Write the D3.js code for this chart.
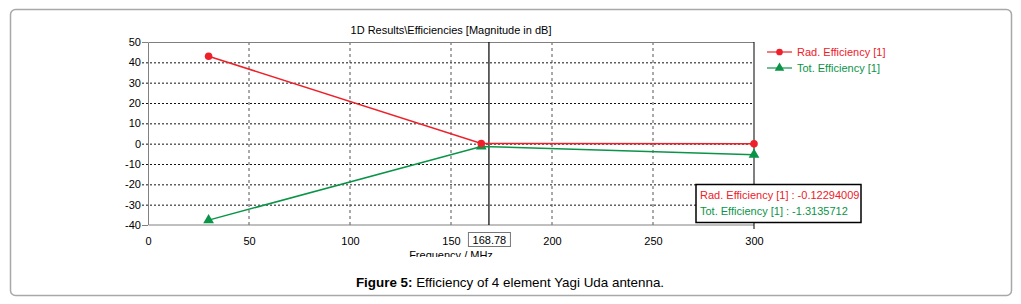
<!DOCTYPE html>
<html>
<head>
<meta charset="utf-8">
<script src="https://cdn.jsdelivr.net/npm/d3@7"></script>
<style>
  body { margin: 0; background: #fff; }
  svg { display: block; }
  .tk { font-family: 'Liberation Sans', sans-serif; font-size: 11px; fill: #000; }
</style>
</head>
<body>
<svg id="chart" width="1021" height="304"></svg>
<script>
// data
const freq = [30, 165, 300]
const radEff = [43, 0.1, -0.1]
const totEff = [-37.6, -1.4, -5.4]
const xTicks = [0, 50, 100, 150, 200, 250, 300]
const yTicks = [50, 40, 30, 20, 10, 0, -10, -20, -30, -40]
const cursorFreq = 168.78
const readout = ['Rad. Efficiency [1] : -0.12294009', 'Tot. Efficiency [1] : -1.3135712']
const legendNames = ['Rad. Efficiency [1]', 'Tot. Efficiency [1]']

const red = '#ee2029'
const green = '#0a9447'

const svg = d3.select('#chart')
const margin = { top: 42, right: 267, bottom: 79, left: 148 }
const width = +svg.attr('width') - margin.left - margin.right
const height = +svg.attr('height') - margin.top - margin.bottom

// outer panel
svg.append('rect')
  .attr('x', 10.5).attr('y', 9.5).attr('width', 1001).attr('height', 286)
  .attr('rx', 5).attr('fill', '#fff').attr('stroke', '#a8a8a8').attr('stroke-width', 1.5)

const g = svg.append('g').attr('transform', 'translate(' + margin.left + ',' + margin.top + ')')

const x = d3.scaleLinear().domain([0, 300]).range([0, width])
const y = d3.scaleLinear().domain([-40, 50]).range([height, 0])

// title
g.append('text').attr('class', 'tk')
  .attr('x', width / 2).attr('y', -8).attr('text-anchor', 'middle')
  .text('1D Results\\Efficiencies [Magnitude in dB]')

// horizontal grid + y labels (plain hyphen for negatives, like the source)
const yAxis = g.append('g')
  .call(d3.axisLeft(y).tickValues(yTicks).tickFormat(d => String(d))
    .tickSize(-width - 6).tickPadding(1).tickSizeOuter(0))
  .attr('transform', 'translate(-6,0)')
yAxis.select('.domain').remove()
yAxis.selectAll('.tick line')
  .attr('stroke', '#111').attr('stroke-dasharray', '2,2')
  .attr('x1', 0).attr('x2', width + 6)
yAxis.selectAll('.tick text').attr('class', 'tk').attr('font-family', null).attr('font-size', null)
yAxis.selectAll('.tick').filter(d => d === 50 || d === -40).select('line').attr('x2', 6).attr('stroke-dasharray', null).attr('stroke', '#808080')

// vertical grid + x labels
const xAxis = g.append('g').attr('transform', `translate(0, ${height})`)
  .call(d3.axisBottom(x).tickValues(xTicks).tickFormat(d => String(d)).tickSize(0).tickPadding(12))
xAxis.select('.domain').remove()
xAxis.selectAll('.tick text').attr('class', 'tk').attr('font-family', null).attr('font-size', null)
g.append('g').selectAll('line')
  .data(xTicks.filter(d => d > 0 && d < 300))
  .join('line')
  .attr('x1', d => x(d)).attr('x2', d => x(d))
  .attr('y1', 0).attr('y2', height)
  .attr('stroke', '#555').attr('stroke-dasharray', '3,3')

// plot frame
g.append('path')
  .attr('d', `M${width},0.5H0.5V${height}H${width}`)
  .attr('fill', 'none').attr('stroke', '#808080')
g.append('line')
  .attr('x1', width).attr('x2', width).attr('y1', 0).attr('y2', height + 4)
  .attr('stroke', '#000')

// cursor
g.append('line')
  .attr('x1', x(cursorFreq)).attr('x2', x(cursorFreq)).attr('y1', 0).attr('y2', height)
  .attr('stroke', '#000').attr('stroke-width', 1.2)

// series
const series = [
  { name: legendNames[0], vals: radEff, color: red, sym: d3.symbolCircle, size: 45 },
  { name: legendNames[1], vals: totEff, color: green, sym: d3.symbolTriangle, size: 50 },
]
const line = d3.line().x(d => x(d[0])).y(d => y(d[1]))
series.slice().reverse().forEach((s) => {
  const pts = freq.map((f, i) => [f, s.vals[i]])
  g.append('path').datum(pts)
    .attr('fill', 'none').attr('stroke', s.color).attr('stroke-width', 1.5)
    .attr('d', line)
  g.selectAll(null).data(pts).join('path')
    .attr('transform', d => `translate(${x(d[0])},${y(d[1])})`)
    .attr('d', d3.symbol().type(s.sym).size(s.size))
    .attr('fill', s.color)
})

// cursor value box on axis
const cx = x(cursorFreq)
g.append('rect')
  .attr('x', cx - 20.5).attr('y', height + 7.5).attr('width', 42).attr('height', 14)
  .attr('fill', '#fff').attr('stroke', '#777')
g.append('text').attr('class', 'tk')
  .attr('x', cx + 0.5).attr('y', height + 18.5).attr('text-anchor', 'middle')
  .text(cursorFreq.toFixed(2))

// axis label, clipped at the bottom like the source image
svg.append('clipPath').attr('id', 'cut')
  .append('rect').attr('x', 0).attr('y', 0).attr('width', 1021).attr('height', 257)
svg.append('text').attr('class', 'tk').attr('clip-path', 'url(#cut)')
  .attr('x', margin.left + width / 2).attr('y', 259).attr('text-anchor', 'middle')
  .text('Frequency / MHz')

// readout box
const rb = svg.append('g').attr('transform', 'translate(696,184.5)')
rb.append('rect').attr('width', 165).attr('height', 38)
  .attr('fill', '#fff').attr('stroke', '#000').attr('stroke-width', 1.5)
readout.forEach((t, i) => {
  rb.append('text').attr('class', 'tk')
    .attr('x', 4).attr('y', 14.5 + i * 16)
    .style('fill', series[i].color)
    .text(t)
})

// legend
const lg = svg.append('g').attr('transform', 'translate(767,52)')
series.forEach((s, i) => {
  const r = lg.append('g').attr('transform', `translate(0,${i * 16})`)
  r.append('line').attr('x1', 0).attr('x2', 25).attr('stroke', s.color).attr('stroke-width', 1.2)
  r.append('path').attr('transform', 'translate(12.5,0)')
    .attr('d', d3.symbol().type(s.sym).size(s.size - 10)).attr('fill', s.color)
  r.append('text').attr('class', 'tk').attr('x', 30).attr('y', 4)
    .style('fill', s.color).text(s.name)
})

// caption
const cap = svg.append('text')
  .attr('x', 510).attr('y', 287).attr('text-anchor', 'middle')
  .attr('font-family', 'Liberation Sans, Arial, sans-serif').attr('font-size', 13.4)
cap.append('tspan').attr('font-weight', 'bold').text('Figure 5:')
cap.append('tspan').text(' Efficiency of 4 element Yagi Uda antenna.')
</script>
</body>
</html>
